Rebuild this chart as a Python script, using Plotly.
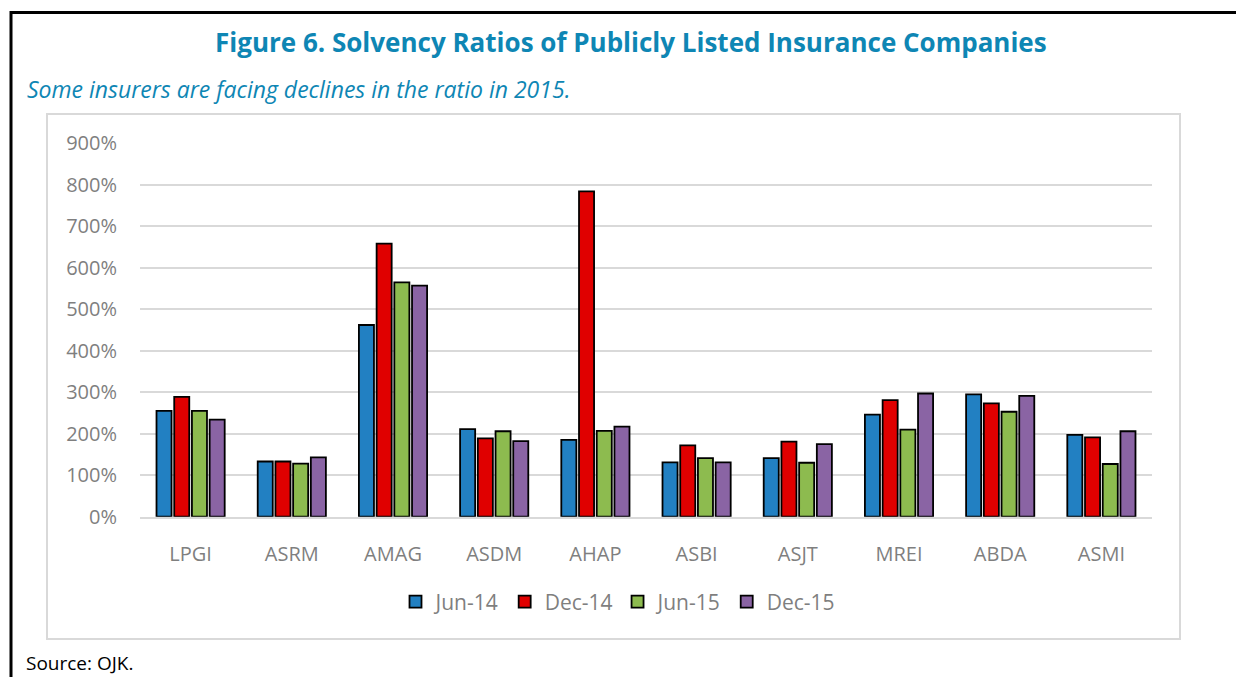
import plotly.graph_objects as go

categories = ["LPGI", "ASRM", "AMAG", "ASDM", "AHAP", "ASBI", "ASJT", "MREI", "ABDA", "ASMI"]
series_names = ["Jun-14", "Dec-14", "Jun-15", "Dec-15"]
jun14 = [255, 133, 462, 211, 185, 131, 141, 246, 295, 197]
dec14 = [289, 133, 658, 189, 784, 172, 181, 281, 273, 191]
jun15 = [255, 128, 565, 206, 207, 141, 130, 210, 253, 127]
dec15 = [234, 143, 557, 182, 217, 131, 175, 297, 291, 206]
colors = ["#2280C2", "#E00000", "#8DBB4F", "#8A64A4"]
y_ticks = [0, 100, 200, 300, 400, 500, 600, 700, 800, 900]

W, H = 1236, 677
FONT = "Open Sans"

def px(x):
    return x / W

def py(y):
    return 1 - y / H

fig = go.Figure()
for name, vals, col in zip(series_names, [jun14, dec14, jun15, dec15], colors):
    fig.add_trace(go.Bar(
        x=categories, y=vals, name=name,
        marker=dict(color=col, line=dict(color="#000000", width=1.8)),
    ))

fig.update_layout(
    width=W, height=H,
    margin=dict(l=0, r=0, t=0, b=0),
    paper_bgcolor="white", plot_bgcolor="white",
    barmode="group", bargap=0.30, bargroupgap=0.15,
    font=dict(family=FONT, color="#7F7F7F"),
    showlegend=True,
    legend=dict(orientation="h", x=px(618), xanchor="center", y=py(602), yanchor="middle",
                font=dict(size=21, color="#7F7F7F", family=FONT), bgcolor="rgba(0,0,0,0)",
                itemwidth=30, traceorder="normal"),
    xaxis=dict(domain=[px(140), px(1152)], automargin=False, showgrid=False,
               showline=True, linecolor="#D9D9D9", linewidth=2,
               tickfont=dict(size=20, color="#7F7F7F", family=FONT),
               ticks="", ticklabelstandoff=18),
    yaxis=dict(domain=[py(516.7), py(143.3)], automargin=False, range=[0, 900],
               tickvals=y_ticks, ticktext=[f"{v}%" for v in y_ticks],
               showgrid=True, gridcolor="#D9D9D9", gridwidth=1.5,
               zeroline=False, showline=False,
               tickfont=dict(size=20, color="#7F7F7F", family=FONT),
               ticks="", ticklabelstandoff=22),
    shapes=[
        dict(type="rect", xref="paper", yref="paper", x0=px(11), x1=px(1245), y0=py(690), y1=py(12.5),
             line=dict(color="#000000", width=3), fillcolor="rgba(0,0,0,0)", layer="above"),
        dict(type="rect", xref="paper", yref="paper", x0=px(47), x1=px(1180), y0=py(639), y1=py(114),
             line=dict(color="#D9D9D9", width=2), fillcolor="rgba(0,0,0,0)", layer="below"),
    ],
    annotations=[
        dict(text="<b>Figure 6. Solvency Ratios of Publicly Listed Insurance Companies</b>",
             xref="paper", yref="paper", x=px(631), y=py(42), xanchor="center", yanchor="middle",
             showarrow=False, font=dict(size=26, color="#0E86B4", family=FONT)),
        dict(text="<i>Some insurers are facing declines in the ratio in 2015.</i>",
             xref="paper", yref="paper", x=px(25), y=py(89), xanchor="left", yanchor="middle",
             showarrow=False, font=dict(size=23, color="#0E86B4", family=FONT)),
        dict(text="Source: OJK.",
             xref="paper", yref="paper", x=px(25), y=py(663), xanchor="left", yanchor="middle",
             showarrow=False, borderpad=0, font=dict(size=19, color="#000000", family=FONT)),
    ],
)

fig.write_html(
    "out.html",
    config={"displayModeBar": False},
    post_script="document.body.style.margin='0';document.body.style.overflow='hidden';",
)
